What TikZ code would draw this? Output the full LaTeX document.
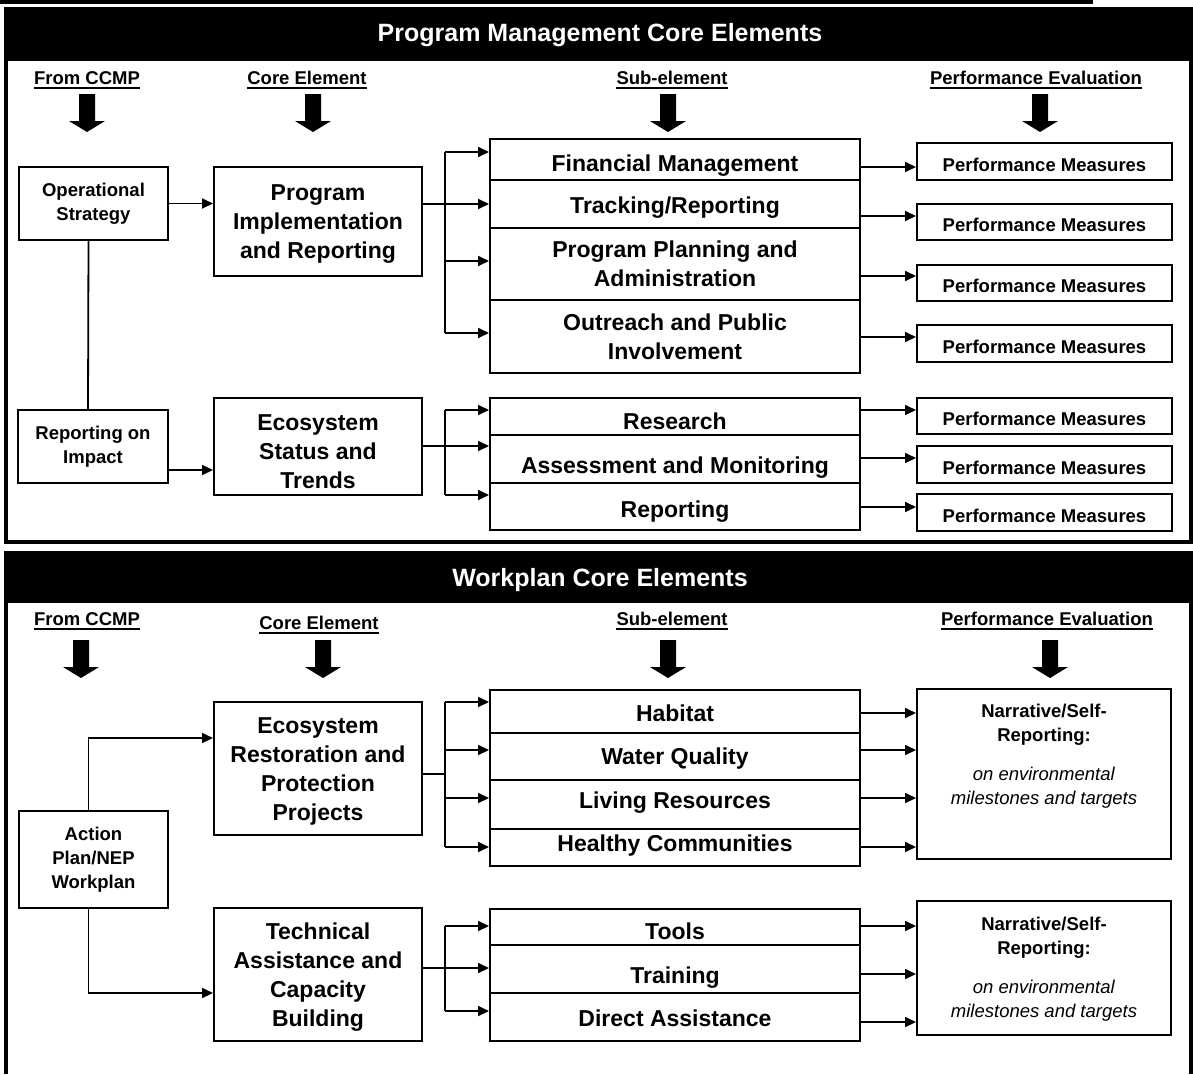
\documentclass[tikz,border=0pt]{standalone}
\usepackage{fontspec}
\setmainfont{Liberation Sans}
\usetikzlibrary{arrows.meta}
\begin{document}
\begin{tikzpicture}[x=1pt,y=-1pt,
  bigtxt/.style={font=\fontsize{23}{29}\selectfont\bfseries, align=center},
  smalltxt/.style={font=\fontsize{18.5}{24}\selectfont\bfseries, align=center},
  box/.style={draw, line width=2pt, inner sep=0pt, bigtxt},
  sbox/.style={draw, line width=2pt, inner sep=0pt, smalltxt},
  % single-line box: caps centre placed #1 pt below the box centre
  one/.style={text height={16.4pt+2*#1 pt}, text depth=0pt},
  pmbox/.style={sbox, minimum width=255pt, text height=19.3pt, text depth=0pt},
  conn/.style={line width=1.8pt, -{Triangle[length=11pt,width=10pt]}},
  wire/.style={line width=1.8pt},
  colhead/.style={font=\fontsize{18.5}{22}\selectfont\bfseries, inner sep=0pt},
  uline/.style={line width=1.6pt},
  paneltitle/.style={font=\fontsize{25}{30}\selectfont\bfseries, text=white, inner sep=0pt},
  frame/.style={line width=4pt},
  bigarrow/.pic={\fill (-8,0) -- (8,0) -- (8,27) -- (18,27) -- (0,38) -- (-18,27) -- (-8,27) -- cycle;},
]
\useasboundingbox (0,0) rectangle (1193,1074);
% top rule
\fill (0,0) rectangle (1093,3.5);

% ---------------- Panel 1 ----------------
\fill (6,9) rectangle (1191,61);
\draw[frame] (6,9) rectangle (1191,542);
\node[paneltitle] (t1) at (600,35) {Program Management Core Elements};

\node[colhead] (a1) at (87,78) {From CCMP};
\node[colhead] (a2) at (307,78) {Core Element};
\node[colhead] (a3) at (672,78) {Sub-element};
\node[colhead] (a4) at (1036,78) {Performance Evaluation};
\foreach \n in {a1,a2,a3,a4}{
  \draw[uline] ([yshift=-3.5pt]\n.base west) -- ([yshift=-3.5pt]\n.base east);
}
\pic at (87,94) {bigarrow};
\pic at (313,94) {bigarrow};
\pic at (668,94) {bigarrow};
\pic at (1040,94) {bigarrow};

\node[sbox, minimum width=149pt, minimum height=73pt] (ops) at (93.5,203.5) {Operational\\Strategy};
\node[box, minimum width=208pt, minimum height=109pt] (pir) at (318,221.5) {\rule{0pt}{20.5pt}Program\\Implementation\\and Reporting};

\node[box, one=3.5, minimum width=370pt, minimum height=41pt] (fm) at (675,159.5) {Financial Management};
\node[box, one=1.5, minimum width=370pt, minimum height=48pt] (tr) at (675,204) {Tracking/Reporting};
\node[box, minimum width=370pt, minimum height=72pt] (ppa) at (675,264) {Program Planning and\\Administration};
\node[box, minimum width=370pt, minimum height=73pt] (opi) at (675,336.5) {Outreach and Public\\Involvement};

\node[sbox, minimum width=150pt, minimum height=73pt] (roi) at (93,446.5) {Reporting on\\Impact};
\node[box, minimum width=208pt, minimum height=97pt] (esst) at (318,446.5) {\rule{0pt}{25.5pt}Ecosystem\\Status and\\Trends};

\node[box, one=4.5, minimum width=370pt, minimum height=37pt] (res) at (675,416.5) {Research};
\node[box, one=6, minimum width=370pt, minimum height=48pt] (am) at (675,459) {Assessment and Monitoring};
\node[box, one=2.5, minimum width=370pt, minimum height=47pt] (rep) at (675,506.5) {Reporting};

\node[pmbox, minimum height=37pt] (pm1) at (1044.5,161.5) {Performance Measures};
\node[pmbox, minimum height=36pt] (pm2) at (1044.5,222) {Performance Measures};
\node[pmbox, minimum height=36pt] (pm3) at (1044.5,283) {Performance Measures};
\node[pmbox, minimum height=37pt] (pm4) at (1044.5,343.5) {Performance Measures};
\node[pmbox, minimum height=36pt] (pm5) at (1044.5,416) {Performance Measures};
\node[pmbox, minimum height=37pt] (pm6) at (1044.5,464.5) {Performance Measures};
\node[pmbox, minimum height=37pt] (pm7) at (1044.5,512.5) {Performance Measures};

% left connectors
\draw[conn] (ops.east) -- (pir.west |- ops.east);
\draw[wire] ([xshift=-5pt]ops.south) -- ([xshift=-5pt]roi.north);
\draw[conn] (roi.east |- 0,470) -- (esst.west |- 0,470);

% fan from pir
\coordinate (j1t) at (445,152);
\coordinate (j1b) at (445,333);
\draw[conn] (pir.east |- tr.west) -- (tr.west);
\draw[wire] (j1t) -- (j1b);
\draw[conn] (j1t) -- (fm.west |- j1t);
\draw[conn] (445,261) -- (ppa.west |- 0,261);
\draw[conn] (j1b) -- (opi.west |- j1b);

% fan from esst
\coordinate (j2t) at (445,410);
\coordinate (j2b) at (445,495);
\draw[conn] (esst.east |- 0,446) -- (am.west |- 0,446);
\draw[wire] (j2t) -- (j2b);
\draw[conn] (j2t) -- (res.west |- j2t);
\draw[conn] (j2b) -- (rep.west |- j2b);

% to performance measures
\draw[conn] (fm.east |- 0,167) -- (pm1.west |- 0,167);
\draw[conn] (tr.east |- 0,216) -- (pm2.west |- 0,216);
\draw[conn] (ppa.east |- 0,276) -- (pm3.west |- 0,276);
\draw[conn] (opi.east |- 0,337) -- (pm4.west |- 0,337);
\draw[conn] (res.east |- 0,410) -- (pm5.west |- 0,410);
\draw[conn] (am.east |- 0,458) -- (pm6.west |- 0,458);
\draw[conn] (rep.east |- 0,507) -- (pm7.west |- 0,507);

% ---------------- Panel 2 ----------------
\fill (6,553) rectangle (1191,603);
\draw[frame] (6,1074) -- (6,553) -- (1191,553) -- (1191,1074);
\node[paneltitle] (t2) at (600,580) {Workplan Core Elements};

\node[colhead] (b1) at (87,619) {From CCMP};
\node[colhead] (b2) at (319,623) {Core Element};
\node[colhead] (b3) at (672,619) {Sub-element};
\node[colhead] (b4) at (1047,619) {Performance Evaluation};
\foreach \n in {b1,b2,b3,b4}{
  \draw[uline] ([yshift=-3.5pt]\n.base west) -- ([yshift=-3.5pt]\n.base east);
}
\pic at (81,640) {bigarrow};
\pic at (323,640) {bigarrow};
\pic at (668,640) {bigarrow};
\pic at (1050,640) {bigarrow};

\node[sbox, minimum width=149pt, minimum height=97pt] (ap) at (93.5,859.5) {Action\\Plan/NEP\\Workplan};
\node[box, minimum width=208pt, minimum height=133pt] (erpp) at (318,768.5) {\rule{0pt}{22.5pt}Ecosystem\\Restoration and\\Protection\\Projects};
\node[box, minimum width=208pt, minimum height=133pt] (tacb) at (318,974.5) {\rule{0pt}{22.5pt}Technical\\Assistance and\\Capacity\\Building};

\node[box, one=2, minimum width=370pt, minimum height=43pt] (hab) at (675,711.5) {Habitat};
\node[box, one=0, minimum width=370pt, minimum height=47pt] (wq) at (675,756.5) {Water Quality};
\node[box, one=-4.5, minimum width=370pt, minimum height=49pt] (lr) at (675,804.5) {Living Resources};
\node[box, one=-4, minimum width=370pt, minimum height=37pt] (hc) at (675,847.5) {Healthy Communities};

\node[box, one=4.5, minimum width=370pt, minimum height=36pt] (tools) at (675,927) {Tools};
\node[box, one=6, minimum width=370pt, minimum height=48pt] (train) at (675,969) {Training};
\node[box, one=1.5, minimum width=370pt, minimum height=48pt] (da) at (675,1017) {Direct Assistance};

\node[draw, line width=2pt, minimum width=254pt, minimum height=170pt, inner sep=0pt] (nar1) at (1044,774) {};
\node[draw, line width=2pt, minimum width=254pt, minimum height=134pt, inner sep=0pt] (nar2) at (1044,968) {};
\node[anchor=north, align=center, inner sep=0pt, font=\fontsize{18.5}{24}\selectfont] (nar1t) at (1044,704)
  {\textbf{Narrative/Self-}\\\textbf{Reporting:}\\[15pt]\textit{on environmental}\\\textit{milestones and targets}};
\node[anchor=north, align=center, inner sep=0pt, font=\fontsize{18.5}{24}\selectfont] (nar2t) at (1044,917)
  {\textbf{Narrative/Self-}\\\textbf{Reporting:}\\[15pt]\textit{on environmental}\\\textit{milestones and targets}};

% left connectors
\draw[conn] ([xshift=-5pt]ap.north) |- (erpp.west |- 0,738);
\draw[conn] ([xshift=-5pt]ap.south) |- (tacb.west |- 0,993);

% fan from erpp
\coordinate (j3) at (445,774);
\coordinate (j3t) at (445,702);
\coordinate (j3b) at (445,847);
\draw[wire] (erpp.east |- j3) -- (j3);
\draw[wire] (j3t) -- (j3b);
\draw[conn] (j3t) -- (hab.west |- j3t);
\draw[conn] (445,750) -- (wq.west |- 0,750);
\draw[conn] (445,798) -- (lr.west |- 0,798);
\draw[conn] (j3b) -- (hc.west |- j3b);

% fan from tacb
\coordinate (j4t) at (445,926);
\coordinate (j4b) at (445,1011);
\draw[conn] (tacb.east |- 0,968) -- (train.west |- 0,968);
\draw[wire] (j4t) -- (j4b);
\draw[conn] (j4t) -- (tools.west |- j4t);
\draw[conn] (j4b) -- (da.west |- j4b);

% to narrative boxes
\draw[conn] (hab.east |- 0,713) -- (nar1.west |- 0,713);
\draw[conn] (wq.east |- 0,750) -- (nar1.west |- 0,750);
\draw[conn] (lr.east |- 0,798) -- (nar1.west |- 0,798);
\draw[conn] (hc.east |- 0,847) -- (nar1.west |- 0,847);
\draw[conn] (tools.east |- 0,926) -- (nar2.west |- 0,926);
\draw[conn] (train.east |- 0,974) -- (nar2.west |- 0,974);
\draw[conn] (da.east |- 0,1022) -- (nar2.west |- 0,1022);
\end{tikzpicture}
\end{document}
